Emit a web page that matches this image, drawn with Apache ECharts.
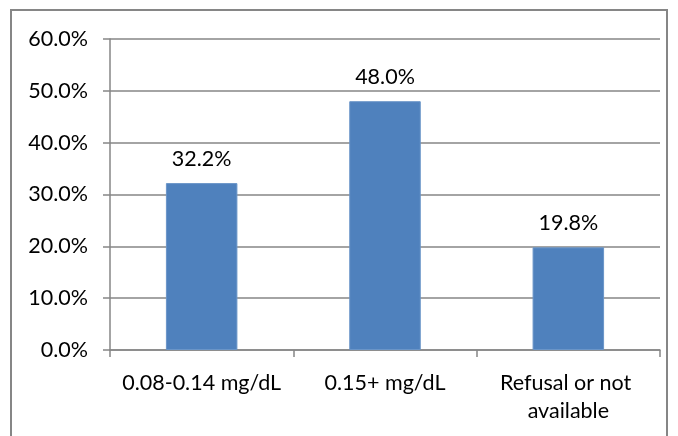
<!DOCTYPE html>
<html>
<head>
<meta charset="utf-8">
<script src="https://cdn.jsdelivr.net/npm/echarts@6/dist/echarts.min.js"></script>
<style>
  html, body { margin: 0; padding: 0; background: #fff; }
  #chart { width: 678px; height: 436px; }
</style>
</head>
<body>
<div id="chart"></div>
<script>
// BAC categories and share of cases in each
const categories = ['0.08-0.14 mg/dL', '0.15+ mg/dL', 'Refusal or not available'];
const shares = [32.2, 48.0, 19.8];
const yTicks = { min: 0, max: 60, interval: 10 };

const FONT = 'Lato';
const FONT_SIZE = 21.5;
const GREY = '#868686';

const chart = echarts.init(document.getElementById('chart'));
chart.setOption({
  animation: false,
  backgroundColor: '#fff',
  graphic: [{
    type: 'rect',
    shape: { x: 11, y: 10, width: 656, height: 470 },
    style: { fill: 'none', stroke: GREY, lineWidth: 2 },
    z: -1
  }],
  grid: { left: 110, right: 18, top: 39, bottom: 86 },
  xAxis: {
    type: 'category',
    data: categories,
    axisLine: { lineStyle: { color: GREY, width: 1.5 } },
    axisTick: { show: true, length: 7, lineStyle: { color: GREY, width: 1.5 } },
    axisLabel: {
      color: '#000', fontFamily: FONT, fontSize: FONT_SIZE, margin: 19,
      width: 178, overflow: 'break', lineHeight: 28, interval: 0
    }
  },
  yAxis: {
    type: 'value',
    min: yTicks.min, max: yTicks.max, interval: yTicks.interval,
    axisLine: { show: true, lineStyle: { color: GREY, width: 1.5 } },
    axisTick: { show: true, length: 7, lineStyle: { color: GREY, width: 1.5 } },
    splitLine: { show: true, lineStyle: { color: GREY, width: 1.5 } },
    axisLabel: {
      color: '#000', fontFamily: FONT, fontSize: FONT_SIZE, margin: 22,
      formatter: v => v.toFixed(1) + '%'
    }
  },
  series: [{
    type: 'bar',
    data: shares,
    barWidth: '39%',
    itemStyle: { color: '#4F81BD', borderColor: '#6a95c8', borderWidth: 1 },
    label: {
      show: true, position: 'top', distance: 13,
      color: '#000', fontFamily: FONT, fontSize: FONT_SIZE,
      formatter: p => p.value.toFixed(1) + '%'
    }
  }]
});
</script>
</body>
</html>
